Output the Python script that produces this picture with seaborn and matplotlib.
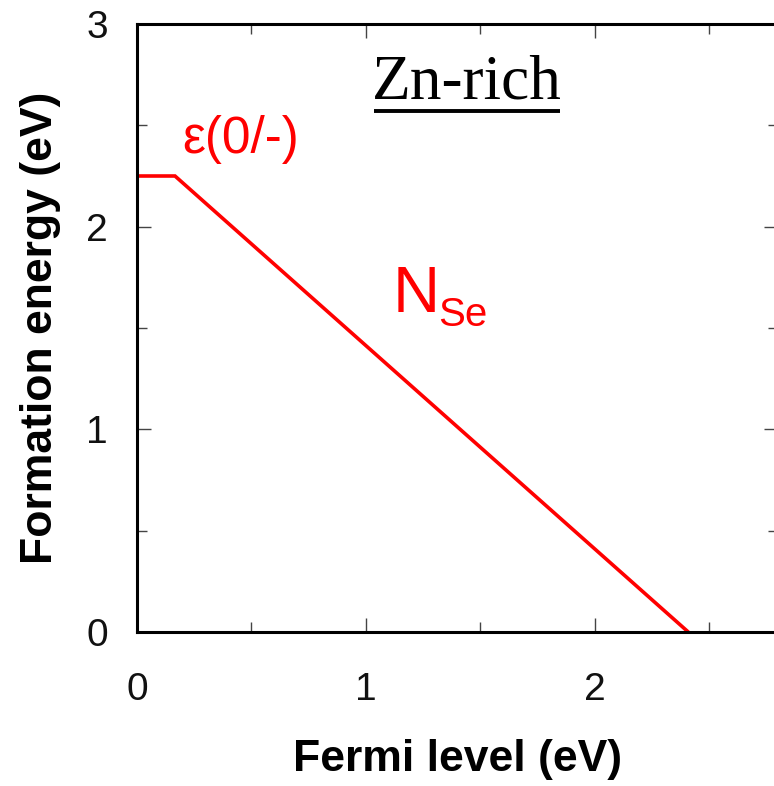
import matplotlib
matplotlib.use("Agg")
import matplotlib.pyplot as plt
from matplotlib.lines import Line2D
from matplotlib.ticker import MultipleLocator
import pandas as pd
import seaborn as sns

# N_Se defect: formation energy vs Fermi level (Zn-rich limit)
fermi_level = [0.0, 0.166, 2.408]
formation_energy = [2.25, 2.25, 0.0]

x_ticks = [0, 1, 2]
y_ticks = [0, 1, 2, 3]

sns.set_theme(style="ticks")
plt.rcParams["font.family"] = ["Liberation Sans", "DejaVu Sans"]
plt.rcParams["text.color"] = "black"
plt.rcParams["axes.labelcolor"] = "black"

df = pd.DataFrame({"Fermi level": fermi_level, "Formation energy": formation_energy})

W, H = 774, 786
fig = plt.figure(figsize=(W / 100, H / 100), dpi=100)
left_px, right_px, top_px, bottom_px = 137, 778, 24, 632
ax = fig.add_axes([left_px / W, 1 - bottom_px / H,
                   (right_px - left_px) / W, (bottom_px - top_px) / H])

sns.lineplot(data=df, x="Fermi level", y="Formation energy", ax=ax,
             color="#ff0000", linewidth=2.6, sort=False, solid_joinstyle="miter")

ax.set_xlim(0, 2.8)
ax.set_ylim(0, 3)
ax.set_xticks(x_ticks)
ax.set_yticks(y_ticks)
ax.xaxis.set_minor_locator(MultipleLocator(0.5))
ax.yaxis.set_minor_locator(MultipleLocator(0.5))
ax.set_xticklabels([str(t) for t in x_ticks])
ax.set_yticklabels([str(t) for t in y_ticks])

for side in ["left", "right", "top", "bottom"]:
    ax.spines[side].set_visible(True)
    ax.spines[side].set_linewidth(2.2)
    ax.spines[side].set_color("black")

ax.tick_params(which="both", direction="in", top=True, right=True,
               color="#444444", width=1.0)
ax.tick_params(which="major", length=10)
ax.tick_params(which="minor", length=7)
ax.tick_params(axis="x", which="major", labelsize=28, pad=29, labelcolor="#111111")
ax.tick_params(axis="y", which="major", labelsize=28, pad=21, labelcolor="#111111")

ax.set_xlabel("Fermi level (eV)", fontsize=32, fontweight="bold", labelpad=22,
              color="black")
ax.set_ylabel("Formation energy (eV)", fontsize=32, fontweight="bold", labelpad=18,
              color="black")

# Annotations
zn = ax.text(1.44, 2.63, "Zn-rich", fontsize=45.5, family="Liberation Serif",
             ha="center", va="baseline", color="black")
ax.text(0.197, 2.363, "ε(0/-)", fontsize=37, color="#ff0000", va="baseline")
ax.text(1.115, 1.579, "N", fontsize=47, color="#ff0000", va="baseline")
ax.text(1.315, 1.51, "Se", fontsize=29, color="#ff0000", va="baseline")

# underline the Zn-rich label
fig.canvas.draw()
bb = zn.get_window_extent()
inv = fig.transFigure.inverted()
(x0, yu), (x1, _) = inv.transform([(bb.x0 + 2, H - 111), (bb.x1 - 2, H - 111)])
fig.add_artist(Line2D([x0, x1], [yu, yu], transform=fig.transFigure,
                      color="black", linewidth=2.8, solid_capstyle="butt"))

fig.savefig("out.png", dpi=100)
